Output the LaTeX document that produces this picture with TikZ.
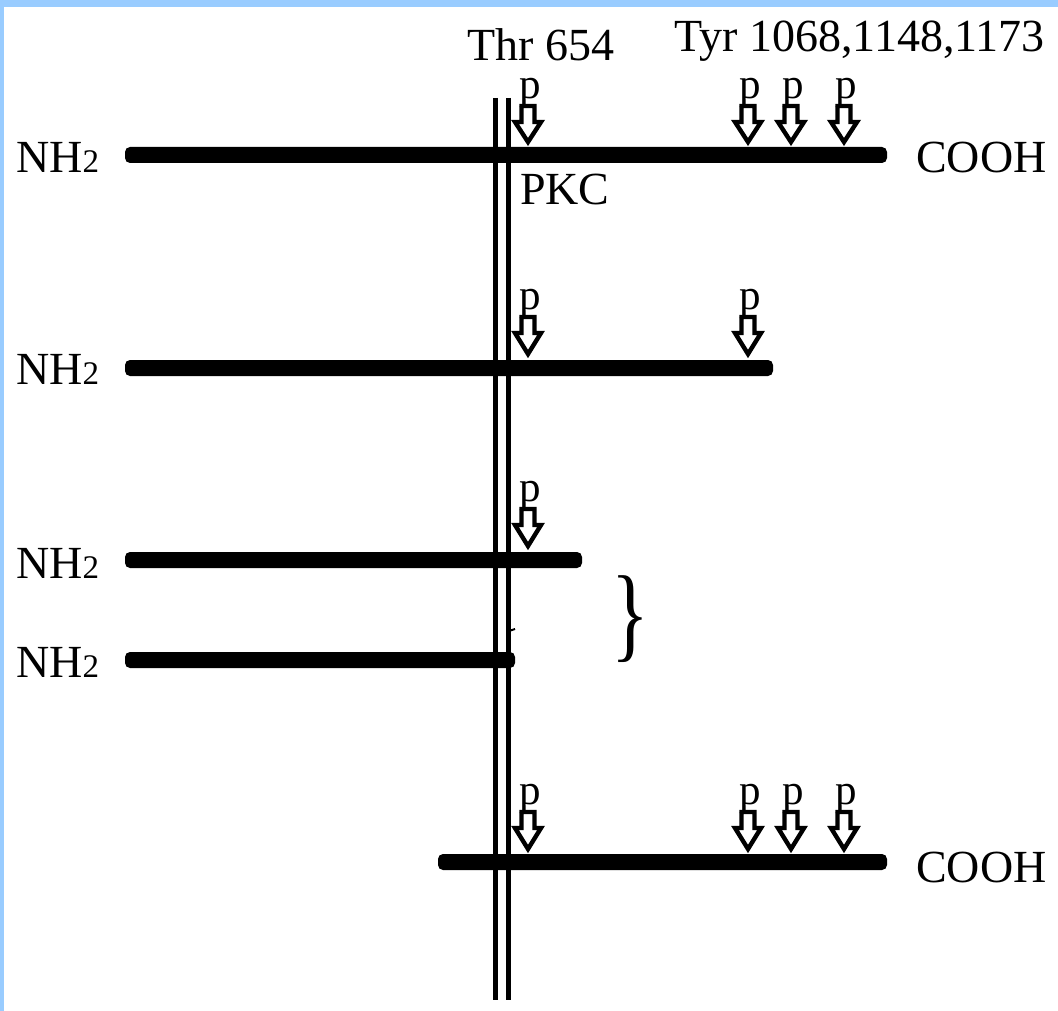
\documentclass[tikz,border=0pt]{standalone}
\usepackage{fontspec}
\setmainfont{Liberation Serif}
\definecolor{frameblue}{RGB}{153,204,255}
\newcommand\phosarrow[4]{% x, top, shoulder, tip
  \draw[arrowbox] (#1-6.5,#2) -- (#1+6.5,#2) -- (#1+6.5,#3) -- (#1+13,#3) -- (#1,#4) -- (#1-13,#3) -- (#1-6.5,#3) -- cycle;}
\tikzset{
  lbl/.style={inner sep=0pt, font=\fontsize{46}{50}\selectfont},
  plbl/.style={inner sep=0pt, font=\fontsize{43}{46}\selectfont},
  arrowbox/.style={draw=black, fill=white, line width=4.4pt, line join=miter},
  membrane/.style={line width=5pt},
  chain/.style={fill=black, rounded corners=5pt},
}
\newcommand\nhtwo{NH{\fontsize{33}{36}\selectfont 2}}
\begin{document}
\begin{tikzpicture}[x=1pt,y=-1pt]
\useasboundingbox (0,0) rectangle (1058,1011);
\fill[white] (0,0) rectangle (1058,1011);
\fill[frameblue] (0,0) rectangle (1058,7);
\fill[frameblue] (0,0) rectangle (4,1011);
% membrane
\draw[membrane] (495,98) -- (495,1000);
\draw[membrane] (508,98) -- (508,1000);
\draw[line width=2pt] (509,631) -- (515,629);
% chains
\fill[chain] (125,147) rectangle (887,163);
\fill[chain] (125,360) rectangle (773,376);
\fill[chain] (125,552) rectangle (582,568);
\fill[chain] (125,652) rectangle (515,668);
\fill[chain] (438,854) rectangle (887,870);
% labels
\node[lbl, anchor=base west] (thr) at (467,61) {Thr 654};
\node[lbl, anchor=base east] (tyr) at (1045,52) {Tyr 1068,1148,1173};
\node[lbl, anchor=base west] (pkc) at (520,205) {PKC};
\node[lbl, anchor=base west] (n1) at (16,173) {\nhtwo};
\node[lbl, anchor=base west] (n2) at (16,384) {\nhtwo};
\node[lbl, anchor=base west] (n3) at (16,578) {\nhtwo};
\node[lbl, anchor=base west] (n4) at (16,677) {\nhtwo};
\node[lbl, anchor=base west] (c1) at (916,173) {COOH};
\node[lbl, anchor=base west] (c5) at (916,882) {COOH};
% row 1 phosphorylation
\foreach \x/\nm in {528/a,748/b,791/c,844/d}{
  \node[plbl, anchor=base] (p1\nm) at (\x+2,99) {p};
  \phosarrow{\x}{106}{122}{142}
}
% row 2
\foreach \x/\nm in {528/a,748/b}{
  \node[plbl, anchor=base] (p2\nm) at (\x+2,309) {p};
  \phosarrow{\x}{317}{333}{354}
}
% row 3
\node[plbl, anchor=base] (p3a) at (530,501) {p};
\phosarrow{528}{509}{525}{546}
% row 5
\foreach \x/\nm in {528/a,748/b,791/c,844/d}{
  \node[plbl, anchor=base] (p5\nm) at (\x+2,804) {p};
  \phosarrow{\x}{812}{828}{849}
}
% brace
\node[inner sep=0pt] (br) at (630,619) {\scalebox{0.75}[1]{\fontsize{105}{105}\selectfont \}}};
\end{tikzpicture}
\end{document}
